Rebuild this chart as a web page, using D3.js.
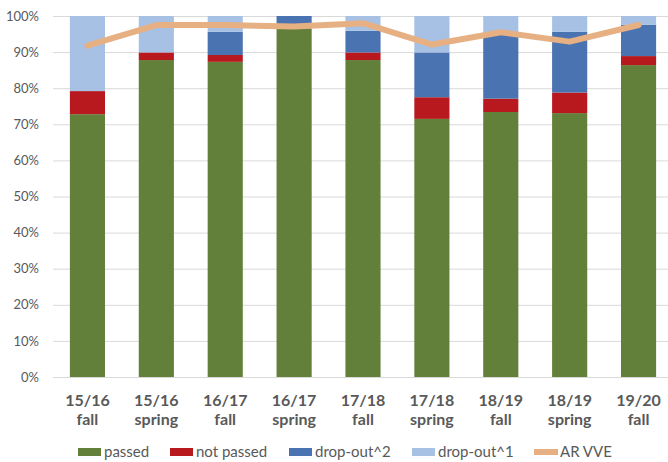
<!DOCTYPE html>
<html><head><meta charset="utf-8">
<script src="https://cdn.jsdelivr.net/npm/d3@7"></script>
<style>body{margin:0;background:#fff}svg{display:block}text{font-family:Lato,"Liberation Sans",sans-serif}</style>
</head><body>
<script>
const categories = [["15/16","fall"],["15/16","spring"],["16/17","fall"],["16/17","spring"],["17/18","fall"],["17/18","spring"],["18/19","fall"],["18/19","spring"],["19/20","fall"]];
const passed    = [72.8, 87.8, 87.3, 96.5, 87.8, 71.5, 73.4, 73.1, 86.4];
const notPassed = [6.4, 2.1, 1.9, 0, 2.1, 6.0, 3.7, 5.7, 2.5];
const dropOut2  = [0, 0, 6.4, 3.5, 6.0, 12.4, 17.9, 16.8, 8.7];
const dropOut1  = [20.8, 10.1, 4.4, 0, 4.1, 10.1, 5.0, 4.4, 2.4];
const arVVE     = [91.8, 97.5, 97.5, 97.1, 98.0, 92.1, 95.5, 92.9, 97.5];
const yTicks = [0,10,20,30,40,50,60,70,80,90,100];
const seriesNames = ["passed","not passed","drop-out^2","drop-out^1","AR VVE"];
const colors = ["#62803A","#B8191F","#4A73B1","#A7C1E5","#E6B083"];

const W = 668, H = 462;
const svg = d3.select("body").append("svg").attr("width",W).attr("height",H);
const x = d3.scaleBand().domain(d3.range(categories.length)).range([53,673]).paddingInner(0.49).paddingOuter(0.245);
const y = d3.scaleLinear().domain([0,100]).range([377,16]);

// gridlines
svg.append("g").selectAll("line").data(yTicks).join("line")
  .attr("x1",53).attr("x2",W).attr("y1",d=>y(d)+0.5).attr("y2",d=>y(d)+0.5)
  .attr("stroke","#D9D9D9").attr("stroke-width",1);

// y labels
const yAxis = d3.axisLeft(y).tickValues(yTicks).tickFormat(d=>d+"%").tickSize(0).tickPadding(0);
const ya = svg.append("g").attr("transform","translate(39,0)").call(yAxis);
ya.select(".domain").remove();
ya.selectAll("text").attr("fill","#595959").style("font-size","13px").style("font-family","Lato");

// stacked bars
const rows = categories.map((c,i)=>({i, s0:passed[i], s1:notPassed[i], s2:dropOut2[i], s3:dropOut1[i]}));
const stack = d3.stack().keys(["s0","s1","s2","s3"])(rows);
stack.forEach((layer,k)=>{
  svg.append("g").selectAll("rect").data(layer).join("rect")
    .attr("x",d=>x(d.data.i)).attr("width",x.bandwidth())
    .attr("y",d=>y(d[1])).attr("height",d=>Math.max(0,y(d[0])-y(d[1])))
    .attr("fill",colors[k]);
});

// line
const line = d3.line().x((d,i)=>x(i)+x.bandwidth()/2).y(d=>y(d));
svg.append("path").datum(arVVE).attr("d",line).attr("fill","none")
  .attr("stroke",colors[4]).attr("stroke-width",6).attr("stroke-linejoin","round").attr("stroke-linecap","round");

// x labels
const xl = svg.append("g").selectAll("text").data(categories).join("text")
  .attr("text-anchor","middle").attr("fill","#595959")
  .style("font-size","16px").style("font-weight","bold");
xl.each(function(d,i){
  const t = d3.select(this);
  t.append("tspan").attr("x",x(i)+x.bandwidth()/2).attr("y",406).text(d[0]);
  t.append("tspan").attr("x",x(i)+x.bandwidth()/2).attr("y",425).text(d[1]);
});

// legend
const legX = [78,170,289,412,534];
const lg = svg.append("g");
seriesNames.forEach((n,k)=>{
  if(k<4){
    lg.append("rect").attr("x",legX[k]).attr("y",448).attr("width",23).attr("height",8).attr("fill",colors[k]);
  } else {
    lg.append("line").attr("x1",legX[k]).attr("x2",legX[k]+24).attr("y1",452).attr("y2",452)
      .attr("stroke",colors[k]).attr("stroke-width",6);
  }
  lg.append("text").attr("x",legX[k]+26).attr("y",457).attr("fill","#595959")
    .style("font-size","15px").text(n);
});
</script>
</body></html>
